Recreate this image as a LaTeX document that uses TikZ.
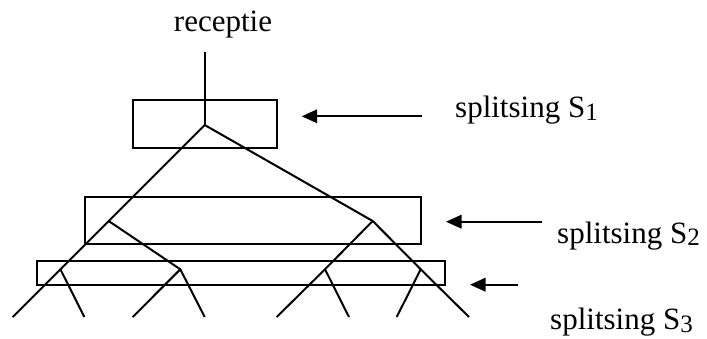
\documentclass[tikz,border=0pt]{standalone}
\usepackage{fontspec}
\setmainfont{Liberation Serif}
\usetikzlibrary{arrows.meta}
\tikzset{
  ln/.style={line width=2pt, line cap=butt, line join=miter},
  boxx/.style={draw, line width=2pt, inner sep=0pt, anchor=center},
  arr/.style={line width=2pt, -{Triangle[length=15.5pt,width=13.5pt]}},
  lbl/.style={inner sep=0pt, anchor=base west, font=\fontsize{31}{37}\selectfont},
}
\newcommand{\mysub}[1]{\raisebox{-2.5pt}{\fontsize{25}{25}\selectfont #1}}
\begin{document}
\begin{tikzpicture}[x=1pt,y=-1pt]
\useasboundingbox (0,0) rectangle (707,338);
% boxes
\node[boxx, minimum width=144.3pt, minimum height=48pt] (b1) at (204.85,124.3) {};
\node[boxx, minimum width=336pt, minimum height=47.6pt] (b2) at (253,220.5) {};
\node[boxx, minimum width=408.3pt, minimum height=24.3pt] (b3) at (240.85,272.85) {};
% labels
\node[inner sep=0pt, anchor=base, font=\fontsize{31}{37}\selectfont] (rec) at (223,31.7) {receptie};
\node[lbl] (s1) at (455,117.7) {splitsing S\mysub{1}};
\node[lbl] (s2) at (557,243.3) {splitsing S\mysub{2}};
\node[lbl] (s3) at (550,329.5) {splitsing S\mysub{3}};
% coordinates
\coordinate (T) at (204.7,51.7);
\coordinate (J0) at (204.7,125);
\coordinate (L2) at (108.7,221);
\coordinate (L3a) at (60.4,269.3);
\coordinate (L3b) at (180.3,269.3);
\coordinate (R2) at (372.7,221);
\coordinate (R3a) at (325,269.3);
\coordinate (R3b) at (420.7,269.3);
\coordinate (E1) at (12.7,317);
\coordinate (E2) at (84.3,317);
\coordinate (E3) at (132.7,317);
\coordinate (E4) at (204.7,317);
\coordinate (E5) at (276.7,317);
\coordinate (E6) at (349,317);
\coordinate (E7) at (396.7,317);
\coordinate (E8) at (469,317);
% tree
\draw[ln] (T) -- (J0);
\draw[ln] (J0) -- (L2) -- (L3a) -- (E1);
\draw[ln] (L3a) -- (E2);
\draw[ln] (L2) -- (L3b) -- (E4);
\draw[ln] (L3b) -- (E3);
\draw[ln] (J0) -- (R2);
\draw[ln] (R2) -- (R3a) -- (E5);
\draw[ln] (R3a) -- (E6);
\draw[ln] (R2) -- (R3b) -- (E8);
\draw[ln] (R3b) -- (E7);
% arrows
\coordinate (a1s) at (421.7,116.3);
\coordinate (a1e) at (301.7,116.3);
\coordinate (a2s) at (541.7,221.7);
\coordinate (a2e) at (446,221.7);
\coordinate (a3s) at (517.7,284.7);
\coordinate (a3e) at (470,284.7);
\draw[arr] (a1s) -- (a1e);
\draw[arr] (a2s) -- (a2e);
\draw[arr] (a3s) -- (a3e);
\end{tikzpicture}
\end{document}
